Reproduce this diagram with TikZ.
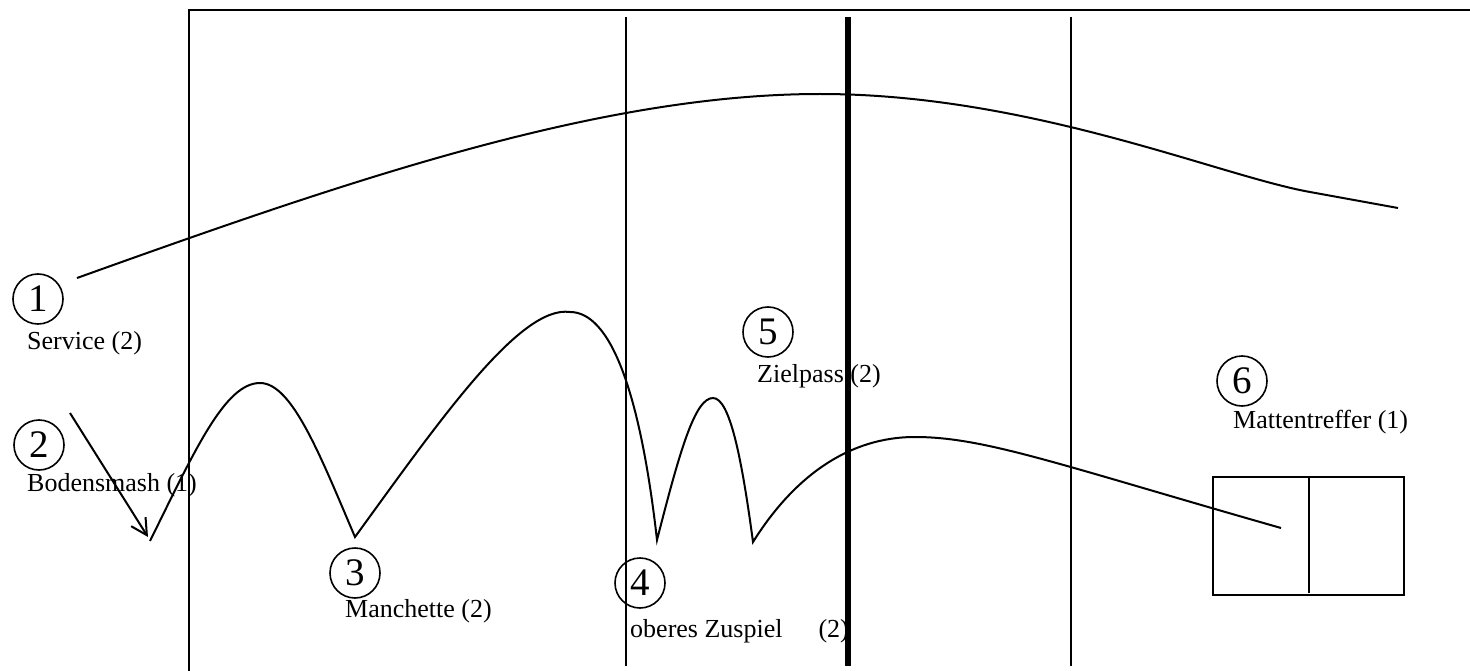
\documentclass[tikz,border=0pt]{standalone}
\usepackage{fontspec}
\setmainfont{Liberation Serif}
\usetikzlibrary{arrows.meta, positioning}

\begin{document}
\begin{tikzpicture}[
    x=1pt, y=-1pt,
    court/.style={line width=1.6pt},
    frameline/.style={line width=2.6pt},
    netline/.style={line width=6.5pt},
    flight/.style={line width=2pt},
    numcircle/.style={draw, circle, line width=1.6pt, minimum size=50pt,
                      inner sep=0pt, font=\fontsize{39}{42}\selectfont},
    lbl/.style={anchor=base west, inner sep=0pt, font=\fontsize{26}{30}\selectfont}
  ]
  \useasboundingbox (0,0) rectangle (1470,671);

  % Court: frame, lines and net
  \draw[frameline] (189,671) -- (189,10) -- (1470,10);
  \draw[court] (626,17) -- (626,666);
  \draw[court] (1071,17) -- (1071,666);
  \draw[netline] (848,17) -- (848,666);

  % Mat target
  \node[draw, line width=2pt, minimum width=191pt, minimum height=118pt,
        inner sep=0pt] (mat) at (1308.5,536) {};
  \draw[flight] (mat.north) -- ([yshift=3pt]mat.south);

  % Numbered steps and their labels
  \node[numcircle] (c1) at (38,299) {1};
  \node[lbl] (service) at (27,349) {Service (2)};
  \node[numcircle] (c2) at (39,445) {2};
  \node[lbl] (smash) at (27,491) {Bodensmash (1)};
  \node[numcircle] (c3) at (355,573) {3};
  \node[lbl] (manchette) at (345,617) {Manchette (2)};
  \node[numcircle] (c4) at (640,583) {4};
  \node[lbl] (zuspiel) at (630,637) {oberes Zuspiel\hspace{36pt}(2)};
  \node[numcircle] (c5) at (768,332) {5};
  \node[lbl] (zielpass) at (757,382) {Zielpass (2)};
  \node[numcircle] (c6) at (1242,381) {6};
  \node[lbl] (treffer) at (1233,428) {Mattentreffer (1)};

  % Service flight
  \coordinate (servestart) at (77,278);
  \coordinate (serveend) at (1398,208);
  \draw[flight] (servestart) .. controls (350,180) and (600,94) .. (820,94)
    .. controls (1030,94) and (1220,176) .. (1310,192) -- (serveend);

  % Smash arrow
  \coordinate (smashfrom) at (70,413);
  \coordinate (smashto) at (148,537);
  \draw[flight, -{Straight Barb[length=16pt, width=17pt, line width=2pt]}]
    (smashfrom) -- (smashto);

  % Rally flight
  \coordinate (b0) at (150,541);
  \coordinate (b1) at (355,537);
  \coordinate (b2) at (657,540);
  \coordinate (b3) at (753,542);
  \coordinate (b4) at (1281,528);
  \draw[flight] (b0) .. controls (195,450) and (225,383) .. (260,383)
    .. controls (292,383) and (320,455) .. (b1)
    .. controls (440,420) and (520,305) .. (570,312)
    .. controls (610,312) and (640,390) .. (b2)
    .. controls (680,450) and (695,398) .. (713,398)
    .. controls (730,398) and (742,460) .. (b3)
    .. controls (795,475) and (850,437) .. (915,437)
    .. controls (985,437) and (1060,465) .. (b4);

\end{tikzpicture}
\end{document}
